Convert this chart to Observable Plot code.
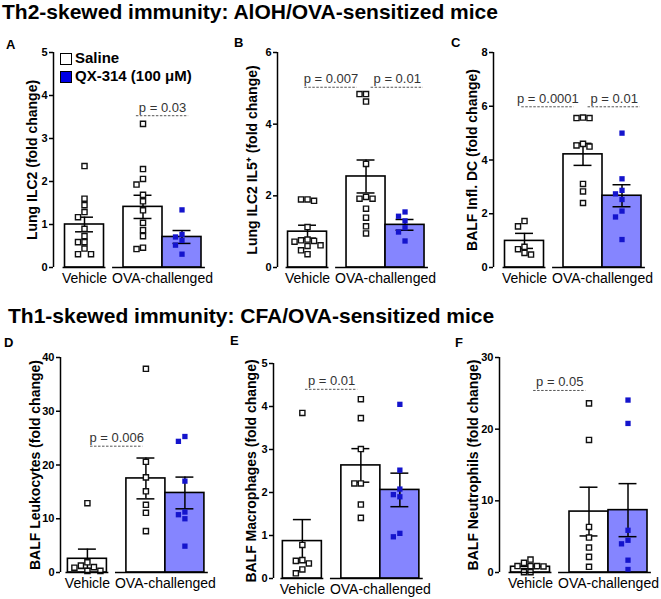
<!DOCTYPE html>
<html><head><meta charset="utf-8">
<script src="https://cdn.jsdelivr.net/npm/d3@7"></script>
<script src="https://cdn.jsdelivr.net/npm/@observablehq/plot@0.6"></script>
<style>
body{margin:0;background:#fff;font-family:"Liberation Sans",Arial,sans-serif;}
#fig{position:relative;width:661px;height:599px;overflow:hidden;background:#fff;}
.abs{position:absolute;white-space:nowrap;color:#000;line-height:24px;}
.title{font-weight:bold;font-size:21px;line-height:22px;}
.letter{font-weight:bold;font-size:13px;line-height:16px;}
.leg{font-weight:bold;font-size:15px;line-height:18px;}
.sw{position:absolute;width:10px;height:10px;border:1.5px solid #000;}
svg{position:absolute;overflow:visible;}
</style></head><body><div id="fig"></div>
<script>
// ---------- data ----------
const panelIds = ["A","B","C","D","E","F"];
const sectionTitles = ["Th2-skewed immunity: AlOH/OVA-sensitized mice","Th1-skewed immunity: CFA/OVA-sensitized mice"];
const yLabels = ["Lung ILC2 (fold change)","Lung ILC2 IL5\u207A (fold change)","BALF Infl. DC (fold change)","BALF Leukocytes (fold change)","BALF Macrophages (fold change)","BALF Neutrophils (fold change)"];
const yMax = [5,6,8,40,5,30];
const yTicks = [[0,1,2,3,4,5],[0,2,4,6],[0,2,4,6,8],[0,10,20,30,40],[0,1,2,3,4,5],[0,10,20,30]];
const groupLabels = ["Vehicle","OVA-challenged"];
const seriesNames = ["Saline","QX-314 (100 \u03BCM)"];
const vehicleSaline = [
  [2.36,1.60,1.45,1.29,1.17,0.90,0.73,0.59,0.59,0.44,0.31,0.31],
  [1.90,1.90,1.86,1.13,0.78,0.76,0.74,0.72,0.62,0.60,0.48,0.37],
  [1.73,1.53,0.77,0.68,0.54,0.48],
  [12.9,1.9,1.3,1.0,0.9,0.3,0.3],
  [3.85,0.78,0.43,0.41,0.35,0.21,0.12],
  [1.8,1.35,0.9,0.9,0.9,0.85,0.05,0.05]
];
const ovaSaline = [
  [3.34,2.29,2.06,1.93,1.69,1.54,1.33,1.04,0.87,0.73,0.46,0.43],
  [4.84,4.84,4.63,2.89,1.97,1.92,1.92,1.64,1.39,1.15,0.95],
  [5.58,5.56,5.56,4.60,4.54,4.50,3.11,2.83,2.40],
  [37.9,20.6,17.7,15.1,12.6,11.1,7.7],
  [4.17,3.73,3.01,2.21,2.21,1.72,1.41],
  [23.6,18.5,6.35,4.87,3.48,2.18,0.79]
];
const ovaQX = [
  [1.34,0.77,0.71,0.63,0.52,0.31],
  [1.55,1.43,1.30,1.11,0.99,0.74],
  [5.00,3.30,2.87,2.74,2.53,2.10,1.88,1.04],
  [25.3,24.4,17.0,11.25,10.75,10.0,4.9],
  [4.05,2.52,2.08,1.95,1.90,1.05,0.97],
  [24.06,20.8,5.89,4.5,4.0,1.72,0.42]
];
// bar means and SEM: [vehicle saline, OVA saline, OVA QX-314]
const barMean = [[1.0,1.41,0.71],[1.0,2.54,1.19],[0.99,4.21,2.67],[2.55,17.5,14.8],[0.87,2.63,2.06],[0.8,8.5,8.7]];
const barSem  = [[0.17,0.27,0.15],[0.18,0.46,0.15],[0.28,0.41,0.41],[1.8,3.8,2.95],[0.5,0.39,0.39],[0.25,3.4,3.7]];
const pLabels = [["p = 0.03"],["p = 0.007","p = 0.01"],["p = 0.0001","p = 0.01"],["p = 0.006"],["p = 0.01"],["p = 0.05"]];
const pPairs  = [[[1,2]],[[0,1],[1,2]],[[0,1],[1,2]],[[0,1]],[[0,1]],[[0,1]]];
const pHeight = [[3.53],[5.03,5.03],[5.98,5.98],[23.5],[4.4],[25.4]];

// ---------- layout / style ----------
const layout = [
  {left:0,   top:40,  mL:53, w:220, x0:0.205, ldx:21, letter:[6,37]},
  {left:220, top:40,  mL:57, w:220, x0:0.23,  ldx:25, letter:[234,35]},
  {left:440, top:40,  mL:53, w:221, x0:0.205, ldx:21, letter:[451,35]},
  {left:0,   top:345, mL:60, w:220, x0:0.31,  ldx:25, letter:[4,335]},
  {left:220, top:351, mL:53, w:220, x0:0.26,  ldx:22, letter:[230,333]},
  {left:440, top:345, mL:59, w:221, x0:0.205, ldx:26, letter:[455,335]}
];
const centers = [1, 2.5, 3.5];
const fills = ["#ffffff","#ffffff","#8585ff"];
const PXU = 39, FH = 215, MT = 12, MB = 30;
const STEP = 6.5, SIZE = 6;

const fig = document.getElementById("fig");
function addDiv(cls, text, left, top) {
  const d = document.createElement("div");
  d.className = "abs " + cls; d.textContent = text;
  d.style.left = left + "px"; d.style.top = top + "px";
  fig.appendChild(d); return d;
}
addDiv("title", sectionTitles[0], 2, 1);
addDiv("title", sectionTitles[1], 8, 305);

function dodge(values, center, pyu) {
  const placed = [], out = [];
  const sorted = values.map((v, i) => ({v, i})).sort((a, b) => b.v - a.v);
  for (const p of sorted) {
    const py = p.v * pyu;
    let off = 0;
    for (let k = 0; k < 30; k++) {
      const cand = k === 0 ? 0 : (k % 2 ? -Math.ceil(k / 2) : Math.ceil(k / 2)) * STEP;
      if (placed.every(q => Math.abs(q.py - py) >= SIZE || Math.abs(q.px - cand) >= SIZE)) { off = cand; break; }
    }
    placed.push({py, px: off});
    out.push({x: center + off / PXU, y: p.v});
  }
  return out;
}

panelIds.forEach((id, i) => {
  const L = layout[i];
  const mR = L.w - L.mL - 160;
  const x1d = L.x0 + 160 / PXU;
  const pyu = FH / yMax[i];
  const bars = [0,1,2].map(k => ({x1: centers[k] - 0.5, x2: centers[k] + 0.5, c: centers[k], mean: barMean[i][k], sem: barSem[i][k], fill: fills[k]}));
  const ptsS = dodge(vehicleSaline[i], centers[0], pyu).concat(dodge(ovaSaline[i], centers[1], pyu));
  const ptsQ = dodge(ovaQX[i], centers[2], pyu);
  const segs = [{a: centers[0] - 0.55, b: centers[0] + 0.55}, {a: centers[1] - 0.78, b: centers[2] + 0.6}];
  const ann = pLabels[i].map((t, j) => {
    const [p, q] = pPairs[i][j];
    const shift = pLabels[i].length > 1 ? (j === 0 ? -0.15 : 0.3) : 0;
    const mid = (centers[p] + centers[q]) / 2 + shift;
    return {text: t, y: pHeight[i][j], x1: mid - 0.67, x2: mid + 0.67, mid};
  });
  const chart = Plot.plot({
    width: L.w, height: MT + FH + MB,
    marginLeft: L.mL, marginRight: mR, marginTop: MT, marginBottom: MB,
    style: {fontFamily: "'Liberation Sans', Arial, sans-serif", background: "transparent", overflow: "visible"},
    x: {domain: [L.x0, x1d], axis: null},
    y: {domain: [0, yMax[i]], axis: null},
    color: {type: "identity"},
    marks: [
      Plot.rect(bars, {x1: "x1", x2: "x2", y1: () => 0, y2: "mean", fill: "fill", stroke: "#000", strokeWidth: 1.6}),
      Plot.ruleX(bars, {x: "c", y1: d => d.mean - d.sem, y2: d => d.mean + d.sem, stroke: "#000", strokeWidth: 1.5}),
      Plot.ruleY(bars, {y: d => d.mean + d.sem, x1: d => d.c - 0.23, x2: d => d.c + 0.23, stroke: "#000", strokeWidth: 1.5}),
      Plot.ruleY(bars, {y: d => d.mean - d.sem, x1: d => d.c - 0.23, x2: d => d.c + 0.23, stroke: "#000", strokeWidth: 1.5}),
      Plot.dot(ptsS, {x: "x", y: "y", symbol: "square", r: 2.9, fill: "#fff", stroke: "#111", strokeWidth: 1.4}),
      Plot.dot(ptsQ, {x: "x", y: "y", symbol: "square", r: 3, fill: "#1414cc", stroke: "none"}),
      Plot.ruleY(segs, {y: () => 0, x1: "a", x2: "b", stroke: "#000", strokeWidth: 1.6}),
      Plot.ruleX([L.x0], {y1: () => 0, y2: () => yMax[i], stroke: "#000", strokeWidth: 1.5}),
      Plot.axisY(yTicks[i], {anchor: "left", tickSize: 4, tickPadding: 2, fontSize: 11, fontWeight: "bold", strokeWidth: 1.5, label: null}),
      Plot.text([yLabels[i]], {text: d => d, frameAnchor: "left", textAnchor: "middle", lineAnchor: "middle", dx: -L.ldx, rotate: -90, fontSize: 14, fontWeight: "bold", fill: "#000"}),
      Plot.text(groupLabels, {text: d => d, x: (d, k) => k === 0 ? centers[0] : (centers[1] + centers[2]) / 2, y: () => 0, dy: 15, lineAnchor: "bottom", fontSize: 14, fill: "#000"}),
      Plot.ruleY(ann, {y: "y", x1: "x1", x2: "x2", stroke: "#555", strokeWidth: 1, strokeDasharray: "2.5,1.5"}),
      Plot.text(ann, {text: "text", x: "mid", y: "y", dy: -4, lineAnchor: "bottom", fontSize: 13, fill: "#333"})
    ]
  });
  chart.style.left = L.left + "px";
  chart.style.top = L.top + "px";
  fig.appendChild(chart);
  addDiv("letter", id, L.letter[0], L.letter[1]);
});

// legend (panel A)
const sw1 = document.createElement("div"); sw1.className = "sw"; sw1.style.left = "60px"; sw1.style.top = "53px"; sw1.style.background = "#fff"; fig.appendChild(sw1);
const sw2 = document.createElement("div"); sw2.className = "sw"; sw2.style.left = "60px"; sw2.style.top = "71px"; sw2.style.background = "#0000e6"; sw2.style.borderColor = "#000"; fig.appendChild(sw2);
addDiv("leg", seriesNames[0], 75, 49);
addDiv("leg", seriesNames[1], 75, 67);
</script></body></html>
